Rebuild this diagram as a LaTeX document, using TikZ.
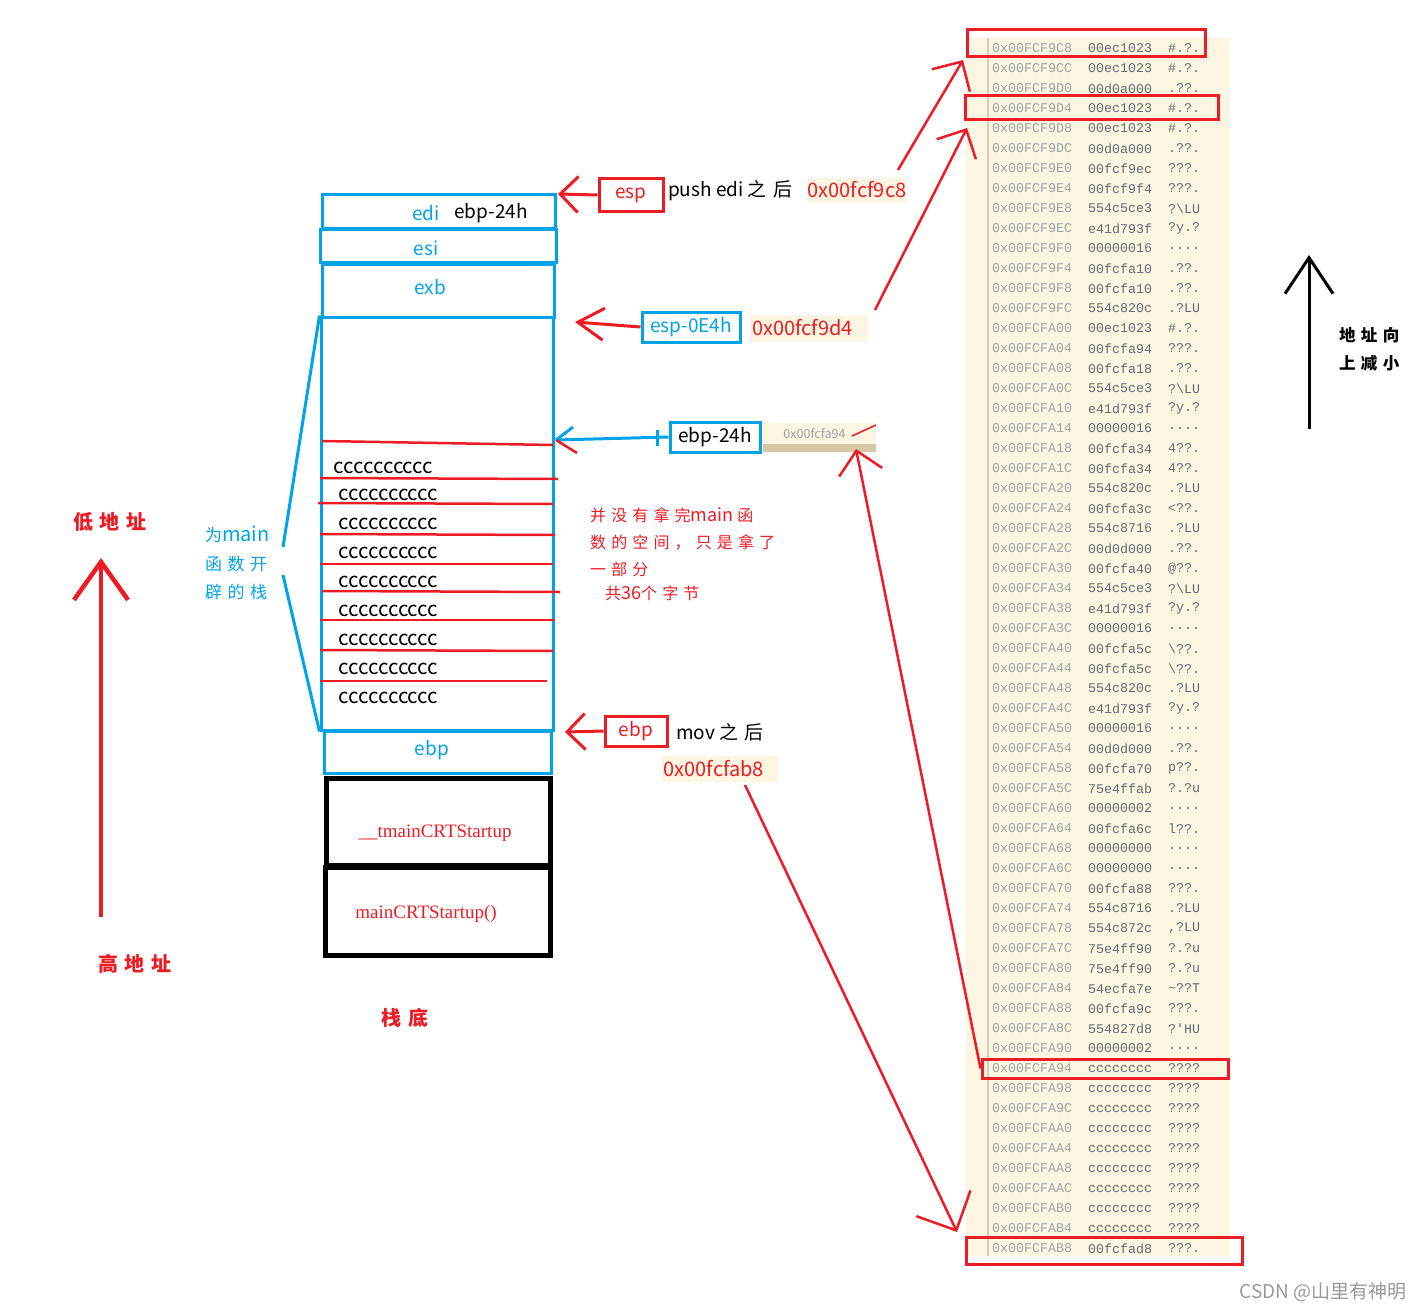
\documentclass[tikz,border=0pt]{standalone}
\usepackage{fontspec}
\usetikzlibrary{arrows.meta}
\newfontfamily\cjk{Noto Sans CJK SC}
\newfontfamily\cjkw[LetterSpace=32]{Noto Sans CJK SC}
\newfontfamily\memfont{Liberation Mono}
\newfontfamily\serifR{Liberation Serif}
\definecolor{cred}{HTML}{ED1C24}
\definecolor{cblue}{HTML}{00A2E8}
\definecolor{ccream}{HTML}{FCF5E2}
\definecolor{ctan}{HTML}{D4C8A6}
\definecolor{caddr}{HTML}{9AA3A3}
\definecolor{cval}{HTML}{5E6C72}
\definecolor{csep}{HTML}{D8CDB0}
\newcommand\mrow[4]{%
  \node[maddr] (ma#1) at (992,{48.5+20*#1}) {#2};
  \node[mval] (mv#1) at (1088,{48.5+20*#1}) {#3};
  \node[masc] (ms#1) at (1168,{48.5+20*#1}) {#4};}
\begin{document}
\begin{tikzpicture}[x=1pt,y=-1pt,
  every node/.style={font=\cjk\fontsize{19}{22}\selectfont, inner sep=0pt},
  bbox/.style={draw=cblue, line width=3pt},
  rbox/.style={draw=cred, line width=3pt},
  kbox/.style={draw=black, line width=5pt},
  hexlbl/.style={fill=ccream, text=cred},
  redln/.style={draw=cred, line width=2.5pt},
  cline/.style={anchor=west, font=\cjk\fontsize{20.5}{22}\selectfont},
  maddr/.style={anchor=west, text=caddr, font=\memfont\fontsize{13.3}{15}\selectfont},
  mval/.style={anchor=west, text=cval, font=\memfont\fontsize{13.3}{15}\selectfont},
  masc/.style={anchor=west, text=cval, font=\memfont\fontsize{13.3}{15}\selectfont},
  memhl/.style={draw=cred, line width=3pt},
  barb/.style={-{Straight Barb[length=#1]}},
  barb/.default=18pt,
  note/.style={anchor=west, text=cred, font=\cjkw\fontsize{16}{18}\selectfont},
]
\useasboundingbox (0,0) rectangle (1422,1311);

% ---------------- memory dump ----------------
\fill[ccream] (966,38) rectangle (1230,1256);
\draw[csep, line width=1.5pt] (988,38) -- (988,1256);
\mrow{0}{0x00FCF9C8}{00ec1023}{\#.?.}
\mrow{1}{0x00FCF9CC}{00ec1023}{\#.?.}
\mrow{2}{0x00FCF9D0}{00d0a000}{.??.}
\mrow{3}{0x00FCF9D4}{00ec1023}{\#.?.}
\mrow{4}{0x00FCF9D8}{00ec1023}{\#.?.}
\mrow{5}{0x00FCF9DC}{00d0a000}{.??.}
\mrow{6}{0x00FCF9E0}{00fcf9ec}{???.}
\mrow{7}{0x00FCF9E4}{00fcf9f4}{???.}
\mrow{8}{0x00FCF9E8}{554c5ce3}{?\textbackslash LU}
\mrow{9}{0x00FCF9EC}{e41d793f}{?y.?}
\mrow{10}{0x00FCF9F0}{00000016}{....}
\mrow{11}{0x00FCF9F4}{00fcfa10}{.??.}
\mrow{12}{0x00FCF9F8}{00fcfa10}{.??.}
\mrow{13}{0x00FCF9FC}{554c820c}{.?LU}
\mrow{14}{0x00FCFA00}{00ec1023}{\#.?.}
\mrow{15}{0x00FCFA04}{00fcfa94}{???.}
\mrow{16}{0x00FCFA08}{00fcfa18}{.??.}
\mrow{17}{0x00FCFA0C}{554c5ce3}{?\textbackslash LU}
\mrow{18}{0x00FCFA10}{e41d793f}{?y.?}
\mrow{19}{0x00FCFA14}{00000016}{....}
\mrow{20}{0x00FCFA18}{00fcfa34}{4??.}
\mrow{21}{0x00FCFA1C}{00fcfa34}{4??.}
\mrow{22}{0x00FCFA20}{554c820c}{.?LU}
\mrow{23}{0x00FCFA24}{00fcfa3c}{<??.}
\mrow{24}{0x00FCFA28}{554c8716}{.?LU}
\mrow{25}{0x00FCFA2C}{00d0d000}{.??.}
\mrow{26}{0x00FCFA30}{00fcfa40}{@??.}
\mrow{27}{0x00FCFA34}{554c5ce3}{?\textbackslash LU}
\mrow{28}{0x00FCFA38}{e41d793f}{?y.?}
\mrow{29}{0x00FCFA3C}{00000016}{....}
\mrow{30}{0x00FCFA40}{00fcfa5c}{\textbackslash??.}
\mrow{31}{0x00FCFA44}{00fcfa5c}{\textbackslash??.}
\mrow{32}{0x00FCFA48}{554c820c}{.?LU}
\mrow{33}{0x00FCFA4C}{e41d793f}{?y.?}
\mrow{34}{0x00FCFA50}{00000016}{....}
\mrow{35}{0x00FCFA54}{00d0d000}{.??.}
\mrow{36}{0x00FCFA58}{00fcfa70}{p??.}
\mrow{37}{0x00FCFA5C}{75e4ffab}{?.?u}
\mrow{38}{0x00FCFA60}{00000002}{....}
\mrow{39}{0x00FCFA64}{00fcfa6c}{l??.}
\mrow{40}{0x00FCFA68}{00000000}{....}
\mrow{41}{0x00FCFA6C}{00000000}{....}
\mrow{42}{0x00FCFA70}{00fcfa88}{???.}
\mrow{43}{0x00FCFA74}{554c8716}{.?LU}
\mrow{44}{0x00FCFA78}{554c872c}{,?LU}
\mrow{45}{0x00FCFA7C}{75e4ff90}{?.?u}
\mrow{46}{0x00FCFA80}{75e4ff90}{?.?u}
\mrow{47}{0x00FCFA84}{54ecfa7e}{\textasciitilde??T}
\mrow{48}{0x00FCFA88}{00fcfa9c}{???.}
\mrow{49}{0x00FCFA8C}{554827d8}{?'HU}
\mrow{50}{0x00FCFA90}{00000002}{....}
\mrow{51}{0x00FCFA94}{cccccccc}{????}
\mrow{52}{0x00FCFA98}{cccccccc}{????}
\mrow{53}{0x00FCFA9C}{cccccccc}{????}
\mrow{54}{0x00FCFAA0}{cccccccc}{????}
\mrow{55}{0x00FCFAA4}{cccccccc}{????}
\mrow{56}{0x00FCFAA8}{cccccccc}{????}
\mrow{57}{0x00FCFAAC}{cccccccc}{????}
\mrow{58}{0x00FCFAB0}{cccccccc}{????}
\mrow{59}{0x00FCFAB4}{cccccccc}{????}
\mrow{60}{0x00FCFAB8}{00fcfad8}{???.}
% highlight boxes
\node[memhl, minimum width=238, minimum height=27] (hl1) at (1086,43.5) {};
\node[memhl, minimum width=253, minimum height=24] (hl2) at (1091.5,108) {};
\node[memhl, minimum width=246, minimum height=19] (hl3) at (1105,1068.5) {};
\node[memhl, minimum width=276, minimum height=27] (hl4) at (1104,1250.5) {};

% ---------------- stack ----------------
\node[bbox, minimum width=233, minimum height=34] (edi) at (438.5,211) {};
\node[bbox, minimum width=236, minimum height=33] (esi) at (438,245.5) {};
\node[bbox, minimum width=232, minimum height=53] (exb) at (438,290.5) {};
\node[bbox, minimum width=232, minimum height=413] (frame) at (437,523.5) {};
\node[bbox, minimum width=227, minimum height=42] (ebpbox) at (437.5,752) {};
\node[kbox, minimum width=224, minimum height=87] (tmain) at (438,821.5) {};
\node[kbox, minimum width=225, minimum height=88] (mcrt) at (437.5,911) {};

\node[text=cblue] (tedi) at (426,213) {edi};
\node (tebp24a) at (491,213) {ebp-24h};
\node[text=cblue] (tesi) at (426,248) {esi};
\node[text=cblue] (texb) at (430,287) {exb};
\node[text=cblue] (tebp) at (432,750) {ebp};
\node[text=cred, font=\serifR\fontsize{19}{21}\selectfont] (ttmain) at (435,833) {\_\_tmainCRTStartup};
\node[text=cred, font=\serifR\fontsize{19}{21}\selectfont] (tmcrt) at (426,914) {mainCRTStartup()};

% red separators in the frame
\draw[redln] (322,441) -- (553,445);
\draw[redln] (320,478) -- (558,479);
\draw[redln] (318,503) -- (553,504);
\draw[redln] (320,534) -- (555,535);
\draw[redln] (320,564) -- (553,564);
\draw[redln] (322,591) -- (560,592);
\draw[redln] (320,620) -- (555,620);
\draw[redln] (320,650) -- (553,651);
\draw[redln] (320,681) -- (547,681);
\node[cline] (c1) at (333,468) {cccccccccc};
\node[cline] (c2) at (338,495) {cccccccccc};
\node[cline] (c3) at (338,524) {cccccccccc};
\node[cline] (c4) at (338,553) {cccccccccc};
\node[cline] (c5) at (338,582) {cccccccccc};
\node[cline] (c6) at (338,611) {cccccccccc};
\node[cline] (c7) at (338,640) {cccccccccc};
\node[cline] (c8) at (338,669) {cccccccccc};
\node[cline] (c9) at (338,698) {cccccccccc};

% bracket for main's frame
\node[anchor=west, text=cblue] (lm1) at (205,534) {\cjkw\fontsize{17}{20}\selectfont 为\cjk\fontsize{20}{22}\selectfont main};
\node[anchor=west, text=cblue, font=\cjkw\fontsize{17}{20}\selectfont] (lm2) at (205,564) {函数开};
\node[anchor=west, text=cblue, font=\cjkw\fontsize{17}{20}\selectfont] (lm3) at (205,592) {辟的栈};
\coordinate (br1) at (283,547);
\coordinate (br2) at (283,575);
\draw[cblue, line width=3pt] (frame.north west) -- (br1);
\draw[cblue, line width=3pt] (br2) -- (frame.south west);

% address direction, left
\node[text=cred, font=\cjkw\bfseries\fontsize{20}{22}\selectfont] (low) at (110,522) {低地址};
\node[text=cred, font=\cjkw\bfseries\fontsize{20}{22}\selectfont] (high) at (135,964) {高地址};
\node[text=cred, font=\cjkw\bfseries\fontsize{20}{22}\selectfont] (bottom) at (405,1018) {栈底};
\coordinate (lowtip) at (101,558);
\coordinate (lowtail) at (101,917);
\draw[cred, line width=4.5pt, -{Straight Barb[length=38pt,width=54pt]}] (lowtail) -- (lowtip);

% address direction, right
\coordinate (rtip) at (1309,255);
\coordinate (rtail) at (1309,429);
\draw[black, line width=3pt, -{Straight Barb[length=36pt,width=48pt]}] (rtail) -- (rtip);
\node[anchor=west, font=\cjkw\bfseries\fontsize{16.5}{18}\selectfont] (dir1) at (1339,335) {地址向};
\node[anchor=west, font=\cjkw\bfseries\fontsize{16.5}{18}\selectfont] (dir2) at (1339,363) {上减小};

% esp after push edi
\node[rbox, minimum width=64, minimum height=32, text=cred] (esp) at (631,195) {esp};
\node[anchor=west] (push) at (668,191) {push edi \cjkw 之后};
\node[hexlbl, minimum width=98, minimum height=24, font=\cjk\fontsize{20}{22}\selectfont] (hx1) at (857,190) {0x00fcf9c8};
\coordinate (espend) at (558,194);
\draw[cred, line width=3pt, barb=18pt] (esp.west) -- (espend);
\coordinate (hx1a) at (898,170);
\coordinate (m1) at (963,60);
\draw[redln, barb=22pt] (hx1a) -- (m1);

% esp-0E4h
\node[bbox, minimum width=98, minimum height=30, text=cblue] (esp0) at (691,327) {esp-0E4h};
\node[hexlbl, minimum width=118, minimum height=27, text width=114pt, align=left, font=\cjk\fontsize{20}{22}\selectfont] (hx2) at (809,328) {0x00fcf9d4};
\coordinate (esp0end) at (575,322);
\draw[cred, line width=3pt, -{Straight Barb[length=26pt,width=32pt]}] (esp0.west) -- (esp0end);
\coordinate (hx2a) at (875,310);
\coordinate (m2) at (967,128);
\draw[redln, barb=22pt] (hx2a) -- (m2);

% ebp-24h
\node[bbox, minimum width=90, minimum height=30] (ebp24) at (715,437) {ebp-24h};
\fill[ctan] (763,444) rectangle (876,452);
\node[fill=ccream, minimum width=113, minimum height=21, text=caddr, font=\cjk\fontsize{12.5}{14}\selectfont] (hx3) at (819.5,433.5) {\hspace*{-10pt}0x00fcfa94};
\draw[cred, line width=1.5pt] (852,436) -- (876,425);
\coordinate (b24end) at (556,440);
\draw[cblue, line width=3pt] (ebp24.west) -- (b24end);
\draw[cblue, line width=3pt] (657,430) -- (657,446);
\draw[cblue, line width=3pt] (b24end) -- (573,427);
\draw[cred, line width=2.5pt] (b24end) -- (577,453);
\coordinate (hx3a) at (856,449);
\draw[redln, {Straight Barb[length=22pt]}-] (hx3a) -- (hl3.west);

% ebp after mov
\node[rbox, minimum width=62, minimum height=30, text=cred] (ebpr) at (636,731) {ebp};
\node[anchor=west] (mov) at (676,732) {mov \cjkw 之后};
\node[hexlbl, minimum width=116, minimum height=26, text width=113pt, align=left, font=\cjk\fontsize{20}{22}\selectfont] (hx4) at (720,769) {0x00fcfab8};
\coordinate (ebprend) at (565,732);
\draw[cred, line width=3pt, barb=18pt] (ebpr.west) -- (ebprend);
\coordinate (hx4a) at (745,785);
\coordinate (m4) at (957,1232);
\draw[redln, barb=30pt] (hx4a) -- (m4);

% note
\node[note] (n1) at (590,515) {并没有拿完\cjk\fontsize{18}{20}\selectfont main \cjkw\fontsize{16}{18}\selectfont 函};
\node[note] (n2) at (590,542) {数的空间，只是拿了};
\node[note] (n3) at (590,569) {一部分};
\node[note] (n4) at (605,593) {共\cjk\fontsize{18}{20}\selectfont 36\cjkw\fontsize{16}{18}\selectfont 个字节};

% watermark
\node[anchor=east, text=black!40, font=\cjk\fontsize{19}{22}\selectfont] (wm) at (1407,1292) {CSDN @山里有神明};
\end{tikzpicture}
\end{document}
